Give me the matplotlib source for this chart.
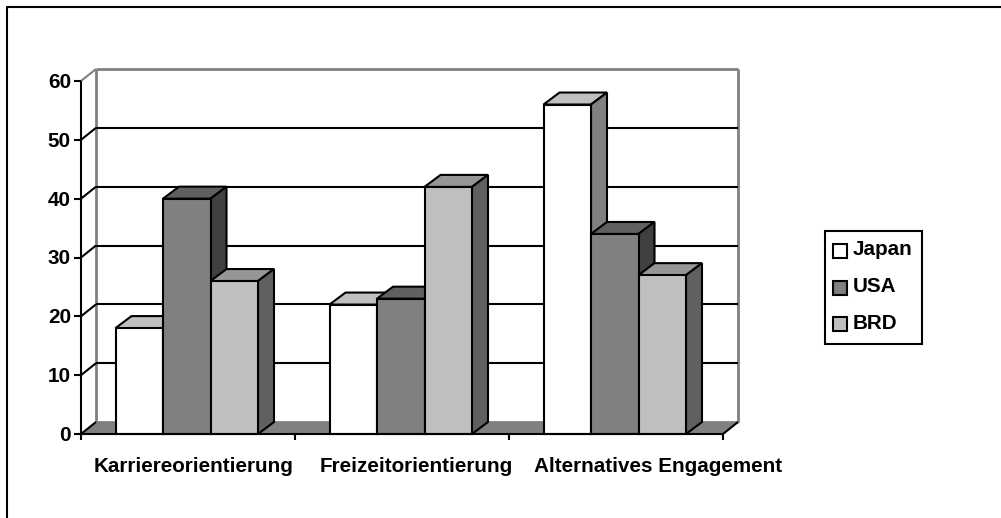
import matplotlib
matplotlib.use("Agg")
import matplotlib.pyplot as plt
from matplotlib.patches import Polygon, Rectangle
from matplotlib.lines import Line2D

plt.rcParams['font.family'] = ['Liberation Sans', 'DejaVu Sans']

categories = ["Karriereorientierung", "Freizeitorientierung", "Alternatives Engagement"]
category_label_x = [0.06, 1.117, 2.117]
series_names = ["Japan", "USA", "BRD"]
japan = [18, 22, 56]
usa = [40, 23, 34]
brd = [26, 42, 27]
y_ticks = [0, 10, 20, 30, 40, 50, 60]

FRONT = ["#FFFFFF", "#808080", "#C0C0C0"]
TOP = ["#C0C0C0", "#606060", "#969696"]
SIDE = ["#808080", "#404040", "#606060"]
WALL = "#808080"
LW = 1.5
FONT = 14.85

W, H = 1001, 518
fig = plt.figure(figsize=(W / 100, H / 100), dpi=100, facecolor="white")

# axes cover the front plane of the 3-D plot box
left, right, bottom, top = 81, 723, 434, 81
ax = fig.add_axes([left / W, 1 - bottom / H, (right - left) / W, (bottom - top) / H])
ax.set_xlim(0, 3)
ax.set_ylim(0, 60)
ax.axis("off")

# pixel sizes converted to data units
PX = 3 / (right - left)
PY = 60 / (bottom - top)
DX = 15 * PX
DY = 12 * PY
BAR_DX = 16 * PX


def poly(pts, fc, ec="black", z=2, lw=LW):
    ax.add_patch(Polygon(pts, closed=True, fc=fc, ec=ec, lw=lw, zorder=z,
                         clip_on=False, joinstyle="miter"))


def seg(xs, ys, color="black", lw=LW, z=1.5):
    ax.add_line(Line2D(xs, ys, color=color, lw=lw, zorder=z, clip_on=False,
                       solid_capstyle="butt"))


# floor and walls
poly([(0, 0), (3, 0), (3 + DX, DY), (DX, DY)], WALL, ec="none", z=1)
seg([DX, DX], [DY, 60 + DY], WALL, 2)
seg([3 + DX, 3 + DX], [DY, 60 + DY], WALL, 2)
seg([DX, 3 + DX], [60 + DY, 60 + DY], WALL, 2)
seg([DX, 3 + DX], [DY, DY], WALL, 2)

# gridlines on the back wall and the side wall
for v in y_ticks:
    if 0 < v < 60:
        seg([DX, 3 + DX], [v + DY, v + DY])
    seg([0, DX], [v, v + DY], WALL if v == 60 else "black")

# value axis, category axis and their ticks
seg([0, 0], [0, 60], z=1.6)
seg([3, 3 + DX], [0, DY], z=1.6)
for v in y_ticks:
    seg([-7 * PX, 0], [v, v], z=1.6)
    ax.text(-10 * PX, v - 1.5 * PY, str(v), ha="right", va="center",
            fontsize=FONT, fontweight="bold")
for i in range(4):
    seg([i, i], [0, -6 * PY], z=1.6)
for x, name in zip(category_label_x, categories):
    ax.text(x, -33 * PY, name, ha="left", va="center",
            fontsize=FONT, fontweight="bold")

# bars, left to right so nearer faces overlap correctly
bar_w = 47.5 * PX
for g in range(len(categories)):
    start = g + 34.5 * PX
    for s, vals in enumerate([japan, usa, brd]):
        x0 = start + s * bar_w
        x1 = x0 + bar_w
        v = vals[g]
        z = 3 + g + s * 0.1
        poly([(x0, v), (x1, v), (x1 + BAR_DX, v + DY), (x0 + BAR_DX, v + DY)], TOP[s], z=z)
        poly([(x1, 0), (x1 + BAR_DX, DY), (x1 + BAR_DX, v + DY), (x1, v)], SIDE[s], z=z)
        poly([(x0, 0), (x1, 0), (x1, v), (x0, v)], FRONT[s], z=z + 0.01)
seg([0, 3], [0, 0], z=9)

# outer chart frame and legend live in figure pixel space
bg = fig.add_axes([0, 0, 1, 1], zorder=-1)
bg.set_xlim(0, W)
bg.set_ylim(H, 0)
bg.axis("off")
bg.plot([7, 7, W], [H, 7, 7], color="black", lw=1.5)

lg = fig.add_axes([0, 0, 1, 1], zorder=5)
lg.set_xlim(0, W)
lg.set_ylim(H, 0)
lg.axis("off")
lg.patch.set_alpha(0)
lg.add_patch(Rectangle((825, 230.5), 97, 113, fc="white", ec="black", lw=1.5))
for i, name in enumerate(series_names):
    y = 250.8 + i * 36.8
    lg.add_patch(Rectangle((833, y - 7), 14, 14, fc=FRONT[i], ec="black", lw=1.5))
    lg.text(853, y - 1, name, ha="left", va="center", fontsize=FONT, fontweight="bold")

fig.savefig("out.png", dpi=100)
